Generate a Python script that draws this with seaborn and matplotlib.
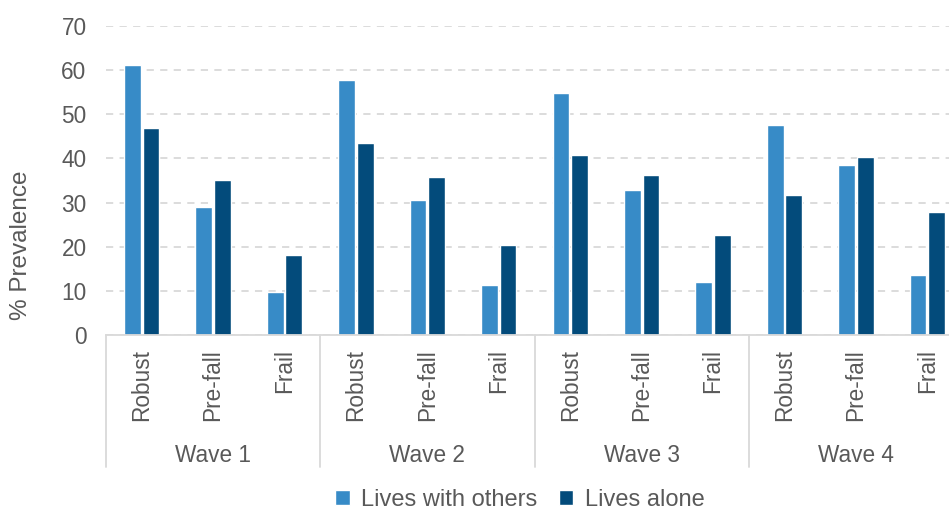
import matplotlib
matplotlib.use("Agg")
import matplotlib.pyplot as plt
import seaborn as sns
import pandas as pd

waves = ["Wave 1", "Wave 2", "Wave 3", "Wave 4"]
statuses = ["Robust", "Pre-fall", "Frail"]
series_names = ["Lives with others", "Lives alone"]
lives_with_others = [61.1, 28.9, 9.7, 57.8, 30.6, 11.4, 54.9, 32.8, 11.9, 47.5, 38.5, 13.7]
lives_alone = [47.0, 35.1, 18.1, 43.6, 35.7, 20.5, 40.8, 36.2, 22.7, 31.7, 40.3, 27.8]
y_ticks = [0, 10, 20, 30, 40, 50, 60, 70]
colors = ["#378BC7", "#034B7B"]

slots = [f"{w}|{s}" for w in waves for s in statuses]
rows = []
for name, vals in zip(series_names, [lives_with_others, lives_alone]):
    for slot, v in zip(slots, vals):
        rows.append({"slot": slot, "value": v, "living": name})
df = pd.DataFrame(rows)

sns.set_style("white")
plt.rcParams["font.family"] = ["Liberation Sans", "DejaVu Sans"]
text_color = "#595959"

W, H = 949, 511
fig = plt.figure(figsize=(W / 100, H / 100), dpi=100)
ax = fig.add_axes([106 / W, (H - 335) / H, 857 / W, 309 / H])

sns.barplot(data=df, x="slot", y="value", hue="living", order=slots,
            hue_order=series_names, palette=colors, width=0.52, gap=0.1,
            ax=ax, legend=True, saturation=1)

handles, labels = ax.get_legend_handles_labels()
ax.get_legend().remove()

ax.set_ylim(0, 70)
ax.set_xlim(-0.5, len(slots) - 0.5)
ax.set_yticks(y_ticks)
ax.yaxis.grid(True, linestyle=(0, (4, 3.5)), color="#d9d9d9", lw=1.3)
ax.set_axisbelow(True)
for side in ["top", "right", "left"]:
    ax.spines[side].set_visible(False)
ax.spines["bottom"].set_color("#d9d9d9")
ax.spines["bottom"].set_linewidth(1.3)

ax.set_xticks(range(len(slots)))
ax.set_xticklabels([s.split("|")[1] for s in slots], rotation=90, va="top")
ax.tick_params(axis="x", length=0, pad=10, labelsize=16.3, labelcolor=text_color)
ax.tick_params(axis="y", length=0, pad=14, labelsize=16.3, labelcolor=text_color)
ax.set_xlabel("")
ax.set_ylabel("")

trans = ax.get_xaxis_transform()
for i in range(len(waves) + 1):
    x = i * len(statuses) - 0.5
    ax.plot([x, x], [0, -(467 - 335) / 309], transform=trans, clip_on=False,
            color="#d9d9d9", lw=1.3)
for i, w in enumerate(waves):
    ax.text(i * len(statuses) + 1, -(455 - 335) / 309, w, transform=trans,
            ha="center", va="center", fontsize=16.3, color=text_color)

fig.text(21 / W, 1 - 245 / H, "% Prevalence", rotation=90, ha="center",
         va="center", fontsize=17.5, color=text_color)

fig.legend(handles, labels, loc="center", bbox_to_anchor=(520 / W, 1 - 500 / H),
           ncol=2, frameon=False, handlelength=0.6, handleheight=0.6,
           columnspacing=0.9, handletextpad=0.5, fontsize=17,
           labelcolor=text_color)

fig.savefig("out.png", dpi=100)
